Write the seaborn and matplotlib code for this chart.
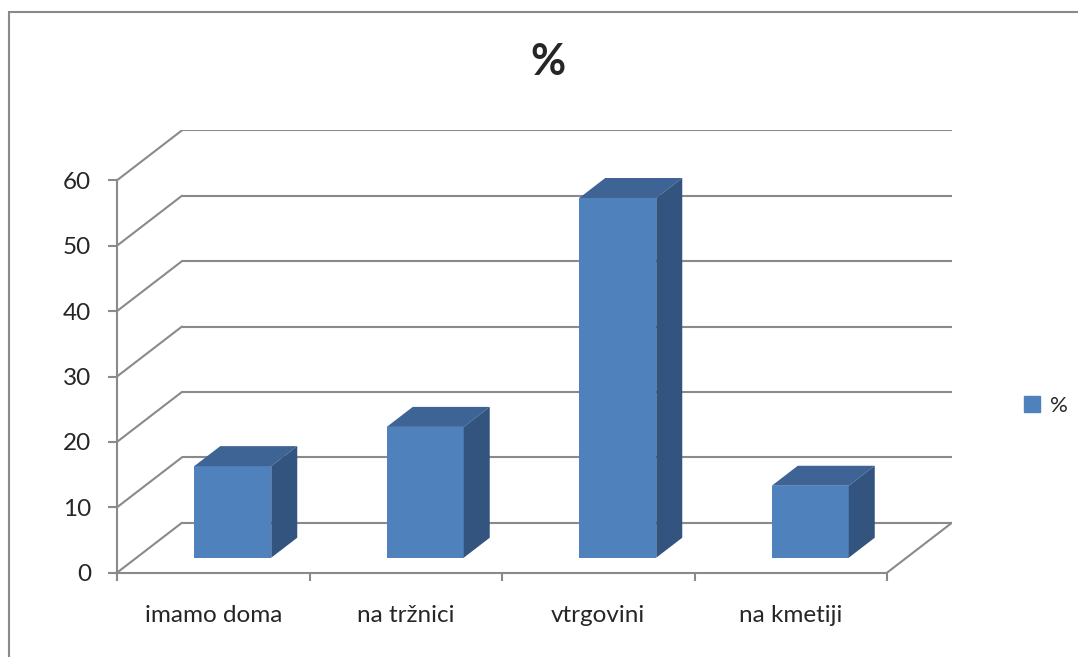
import numpy as np
import pandas as pd
import matplotlib
matplotlib.use("Agg")
import matplotlib.pyplot as plt
import matplotlib.patches as mpatches
import seaborn as sns

# data
categories = ["imamo doma", "na tržnici", "vtrgovini", "na kmetiji"]
values = [14, 20, 55, 11]
series_name = "%"
y_ticks = [0, 10, 20, 30, 40, 50, 60]

sns.set_style("white")
plt.rcParams["font.family"] = ["Lato", "DejaVu Sans"]

front_col = "#4F81BD"
top_col = "#3D6494"
side_col = "#32547F"
line_col = "#8A8A8A"

# fake 3d depth (in data units): 65 px across, 50 px up
depth_x = 65 / 192.5
depth_y = 50 / 6.54
bar_w = 0.4
d0, d1 = 0.3, 0.7   # bar depth range

fig = plt.figure(figsize=(10.78, 6.57), dpi=100)
ax = fig.add_axes([117 / 1078, 84.3 / 657, 835 / 1078, 442.4 / 657])

df = pd.DataFrame({"cat": categories, "val": values})
sns.barplot(data=df, x="cat", y="val", color=front_col, saturation=1,
            width=bar_w, ax=ax, zorder=3)

# push the bar fronts back into the box
for p in ax.patches:
    p.set_x(p.get_x() + d0 * depth_x)
    p.set_y(d0 * depth_y)
    p.set_linewidth(0)

# top and side faces
dd = d1 - d0
for i, v in enumerate(values):
    x0 = i - bar_w / 2 + d0 * depth_x
    x1 = x0 + bar_w
    b = d0 * depth_y
    t = b + v
    ax.fill([x0, x1, x1 + dd * depth_x, x0 + dd * depth_x],
            [t, t, t + dd * depth_y, t + dd * depth_y],
            color=top_col, lw=0, zorder=3)
    ax.fill([x1, x1, x1 + dd * depth_x, x1 + dd * depth_x],
            [b, t, t + dd * depth_y, b + dd * depth_y],
            color=side_col, lw=0, zorder=3)

# back wall gridlines, side wall diagonals, floor edge
left, right = -0.5, len(categories) - 0.5
for v in y_ticks:
    ax.plot([left + depth_x, right + depth_x], [v + depth_y, v + depth_y],
            color=line_col, lw=1.5, zorder=1, solid_capstyle="butt")
    ax.plot([left, left + depth_x], [v, v + depth_y],
            color=line_col, lw=1.5, zorder=1)
ax.plot([right, right + depth_x], [0, depth_y], color=line_col, lw=1.5, zorder=1)

ax.set_xlim(left, right + depth_x)
ax.set_ylim(0, max(y_ticks) + depth_y)

for s in ["top", "right"]:
    ax.spines[s].set_visible(False)
for s in ["left", "bottom"]:
    ax.spines[s].set_color(line_col)
    ax.spines[s].set_linewidth(1.5)
ax.spines["left"].set_bounds(0, max(y_ticks))
ax.spines["bottom"].set_bounds(left, right)

ax.set_yticks(y_ticks)
ax.tick_params(axis="y", length=6.5, width=1.5, color=line_col, pad=12,
               labelsize=17.5, left=True)
ax.set_xticks(range(len(categories)))
ax.set_xticklabels(categories)
ax.set_xticks(np.arange(left, right + 0.01, 1), minor=True)
ax.tick_params(axis="x", which="major", length=0, pad=23, labelsize=17.5)
ax.tick_params(axis="x", which="minor", length=6, width=1.5, color=line_col,
               bottom=True)
ax.set_xlabel("")
ax.set_ylabel("")
ax.patch.set_alpha(0)

fig.text(548 / 1078, 1 - 62 / 657, "%", fontsize=31, fontweight="bold",
         ha="center", va="center")

handle = mpatches.Patch(color=front_col)
fig.legend([handle], [series_name], loc="center left",
           bbox_to_anchor=(1004 / 1078, 1 - 406 / 657), frameon=False,
           handlelength=0.7, handleheight=0.7, handletextpad=0.45,
           fontsize=16)

# chart area border
fig.patches.append(mpatches.Rectangle((9 / 1078, -0.1), 1.2, 1.1 - 12 / 657,
                                      transform=fig.transFigure, fill=False,
                                      edgecolor=line_col, lw=1.5))

fig.savefig("out.png", dpi=100)
